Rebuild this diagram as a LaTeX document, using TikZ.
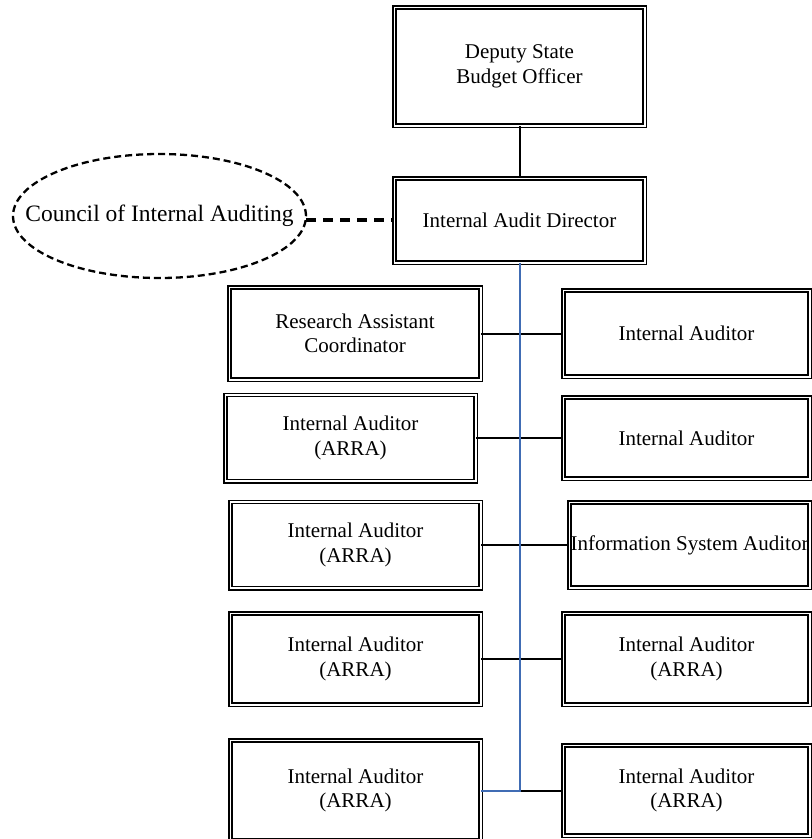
\documentclass[tikz,border=0pt]{standalone}
\usepackage{fontspec}
\setmainfont{Liberation Serif}
\usetikzlibrary{calc}
\definecolor{trunkblue}{RGB}{64,108,180}
\tikzset{
  box/.style={draw, double, line width=1.5pt, double distance=1.8pt, inner sep=0pt,
    align=center, font=\fontsize{21}{24.5}\selectfont},
  label/.style={inner sep=0pt, font=\fontsize{23.5}{27}\selectfont},
  council/.style={line width=2.3pt, dash pattern=on 7pt off 4pt},
  link/.style={line width=2pt, black},
  trunk/.style={line width=2pt, trunkblue},
  dlink/.style={line width=3.2pt, dash pattern=on 10pt off 7pt}
}
\begin{document}
\begin{tikzpicture}[x=1pt,y=-1pt]
\useasboundingbox (0,0) rectangle (812,839);
\clip (0,0) rectangle (812,839);

\node[box, minimum width=250.2pt, minimum height=118.2pt] (top) at (519.5,66.5) {Deputy State\\Budget Officer};
\node[box, minimum width=250.2pt, minimum height=84.2pt] (dir) at (519.5,220.5) {Internal Audit Director};

\node[label] (cia) at (159.5,216) {Council of Internal Auditing};
\draw[council] (cia.center) ellipse [x radius=146.5pt, y radius=62pt];
\coordinate (ciaE) at ($(cia.center)+(146.5,4)$);

\node[box, minimum width=251.2pt, minimum height=92.2pt] (L1) at (355,333.5) {Research Assistant\\Coordinator};
\node[box, minimum width=246.2pt, minimum height=86.2pt] (R1) at (686.5,333.5) {Internal Auditor};

\node[box, minimum width=250.2pt, minimum height=86.2pt] (L2) at (350.5,438) {Internal Auditor\\(ARRA)};
\node[box, minimum width=246.2pt, minimum height=81.2pt] (R2) at (686.5,438) {Internal Auditor};

\node[box, minimum width=250.2pt, minimum height=86.2pt] (L3) at (355.5,545) {Internal Auditor\\(ARRA)};
\node[box, minimum width=240.2pt, minimum height=85.2pt] (R3) at (689.5,545) {Information System Auditor};

\node[box, minimum width=250.2pt, minimum height=91.2pt] (L4) at (355.5,659) {Internal Auditor\\(ARRA)};
\node[box, minimum width=246.2pt, minimum height=91.2pt] (R4) at (686.5,659) {Internal Auditor\\(ARRA)};

\node[box, minimum width=250.2pt, minimum height=100.2pt] (L5) at (355.5,790.5) {Internal Auditor\\(ARRA)};
\node[box, minimum width=246.2pt, minimum height=90.2pt] (R5) at (686.5,790.5) {Internal Auditor\\(ARRA)};

\draw[link] (top.south) -- (dir.north);
\draw[dlink] (ciaE) -- (ciaE -| dir.west);

\draw[link] (L1.east) -- (R1.west);
\draw[link] (L2.east) -- (R2.west);
\draw[link] (L3.east) -- (R3.west);
\draw[link] (L4.east) -- (R4.west);
\draw[link] (dir.south |- R5.west) -- (R5.west);
\draw[trunk] (dir.south) -- (dir.south |- L5.east) -- (L5.east);
\end{tikzpicture}
\end{document}
